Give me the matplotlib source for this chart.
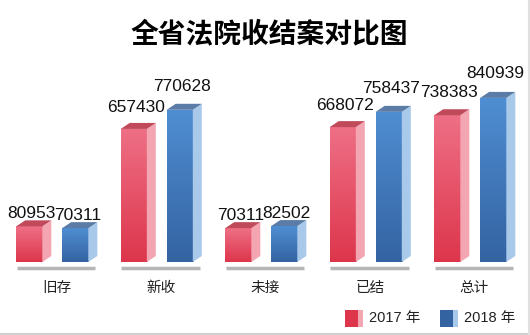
import numpy as np
import matplotlib.pyplot as plt
from matplotlib.colors import LinearSegmentedColormap
from matplotlib.patches import Polygon, Rectangle
from matplotlib.lines import Line2D

categories = ['旧存', '新收', '未接', '已结', '总计']
cases_2017 = [80953, 657430, 70311, 668072, 738383]
cases_2018 = [70311, 770628, 82502, 758437, 840939]
series_names = ['2017 年', '2018 年']

W, H = 530, 335
fig = plt.figure(figsize=(W / 100, H / 100), dpi=100)
ax_h = 222
ax = fig.add_axes([0, 73 / H, 1, ax_h / H])
ax.axis('off')

# short stub so the small bars stay visible, like the original
stub = 130000
xlim = (-0.5, -0.5 + W / 104.5)
ylim = (-stub, -stub + ax_h / 1.69e-4)
px_x = (xlim[1] - xlim[0]) / W
px_y = (ylim[1] - ylim[0]) / ax_h

x = np.arange(len(categories))
bw = 0.25
dx, dy = 9 * px_x, 6 * px_y

styles = [
    dict(top='#ee6f85', bottom='#dd364c', side='#f3a6b2', cap='#c04a5a'),
    dict(top='#4f8ed2', bottom='#3463a2', side='#a9c9ea', cap='#5a7ca6'),
]
num_font = ['Liberation Sans', 'DejaVu Sans']

for vals, off, st in zip([cases_2017, cases_2018], [-0.22, 0.22], styles):
    bars = ax.bar(x + off, np.array(vals) + stub, bw, bottom=-stub, color='none', linewidth=0)
    cmap = LinearSegmentedColormap.from_list('g', [st['bottom'], st['top']])
    for b, v in zip(bars, vals):
        x0, x1 = b.get_x(), b.get_x() + b.get_width()
        y0, y1 = -stub, v
        im = ax.imshow(np.linspace(0, 1, 64).reshape(-1, 1), cmap=cmap, origin='lower',
                       extent=[x0, x1, y0, y1], aspect='auto', zorder=2)
        im.set_clip_path(b)
        ax.add_patch(Polygon([(x1, y0), (x1 + dx, y0 + dy), (x1 + dx, y1 + dy), (x1, y1)],
                             color=st['side'], lw=0, zorder=2))
        ax.add_patch(Polygon([(x0, y1), (x1, y1), (x1 + dx, y1 + dy), (x0 + dx, y1 + dy)],
                             color=st['cap'], lw=0, zorder=2))
        gap = 2 + 0.09 * (v + stub) / px_y
        ax.text((x0 + x1) / 2 + 2 * px_x, y1 + gap * px_y, str(v), ha='center', va='bottom',
                fontsize=12.5, family=num_font, color='#111111')

# grey ground shadow under each group
for i in x:
    ax.plot([i - 0.34, i + 0.41], [-stub - 6 * px_y] * 2, color='#b5b5b5', lw=2.5,
            solid_capstyle='butt', clip_on=False)
    ax.text(i + 0.04, -26 / ax_h, categories[i], transform=ax.get_xaxis_transform(),
            ha='center', va='center', fontsize=10.5, color='#222222',
            family=['Noto Sans CJK SC', 'DejaVu Sans'])

ax.set_xlim(*xlim)
ax.set_ylim(*ylim)

fig.text(0.508, 1 - 34 / H, '全省法院收结案对比图', ha='center', va='center',
         fontsize=20, fontweight='heavy', family=['Noto Sans CJK SC', 'DejaVu Sans'])

# legend
for name, st, lx in zip(series_names, styles, [345, 440]):
    fig.add_artist(Rectangle((lx / W, 8 / H), 13 / W, 17 / H, transform=fig.transFigure,
                             color=st['bottom'], lw=0))
    fig.add_artist(Rectangle(((lx + 13) / W, 8 / H), 5 / W, 17 / H, transform=fig.transFigure,
                             color=st['side'], lw=0))
    fig.text((lx + 24) / W, 17 / H, name, ha='left', va='center', fontsize=10.5,
             color='#222222', family=['Liberation Sans', 'Noto Sans CJK SC'])

fig.add_artist(Line2D([0, 1], [1.5 / H, 1.5 / H], color='#d0d0d0', lw=1.5))
fig.add_artist(Line2D([1 - 1.5 / W, 1 - 1.5 / W], [0, 1], color='#e0e0e0', lw=1.5))

fig.savefig('out.png', dpi=100)
